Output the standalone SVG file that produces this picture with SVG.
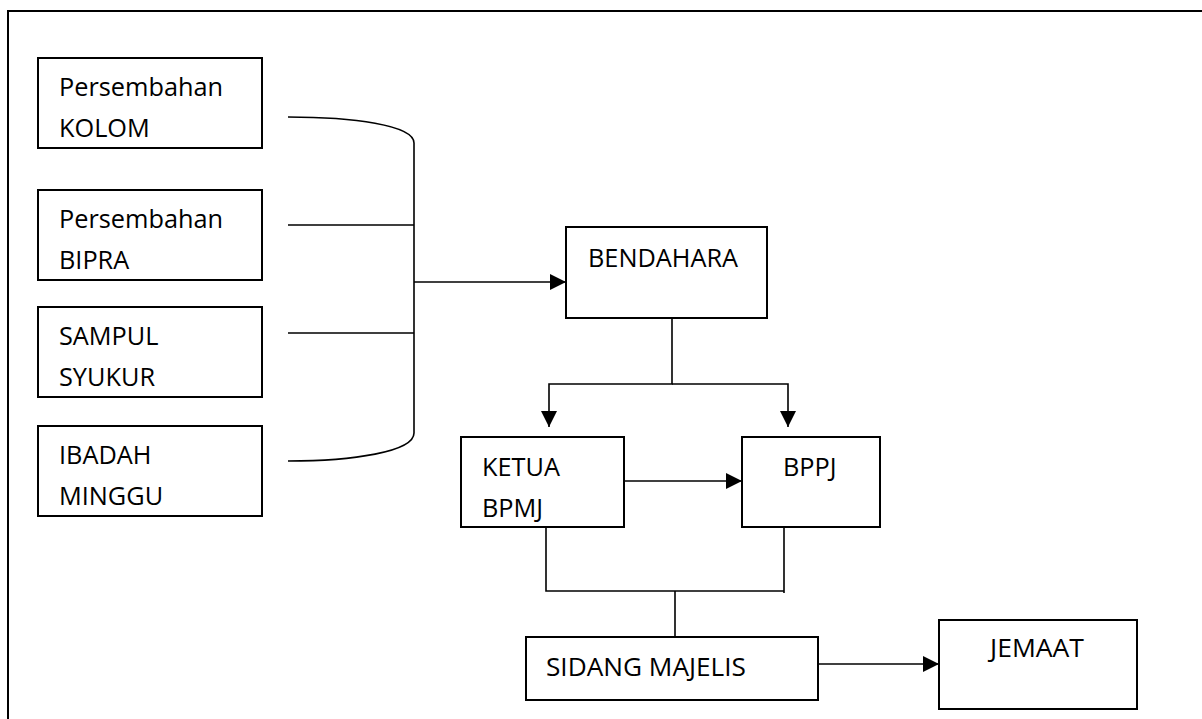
<svg xmlns="http://www.w3.org/2000/svg" width="1202" height="719" viewBox="0 0 1202 719">
<style>
.box{fill:#fff;stroke:#000;stroke-width:2}
.ln{fill:none;stroke:#000;stroke-width:1.6}
.t{font-family:"Open Sans","Liberation Sans",sans-serif;font-size:25.3px;fill:#000}
</style>
<defs>
<marker id="ah" viewBox="0 0 16 16" refX="16" refY="8" markerWidth="16" markerHeight="16" markerUnits="userSpaceOnUse" orient="auto">
<path d="M0,0 L16,8 L0,16 Z" fill="#000"/>
</marker>
</defs>
<rect width="1202" height="719" fill="#fff"/>
<path d="M8,719 V11 H1202" fill="none" stroke="#000" stroke-width="2"/>
<g id="n-kolom"><rect class="box" x="38" y="58" width="224" height="90"/><text class="t" x="59" y="96">Persembahan</text><text class="t" x="59" y="137">KOLOM</text></g>
<g id="n-bipra"><rect class="box" x="38" y="190" width="224" height="90"/><text class="t" x="59" y="228">Persembahan</text><text class="t" x="59" y="269">BIPRA</text></g>
<g id="n-sampul"><rect class="box" x="38" y="307" width="224" height="90"/><text class="t" x="59" y="345">SAMPUL</text><text class="t" x="59" y="386">SYUKUR</text></g>
<g id="n-ibadah"><rect class="box" x="38" y="426" width="224" height="90"/><text class="t" x="59" y="464">IBADAH</text><text class="t" x="59" y="505">MINGGU</text></g>
<g id="n-bendahara"><rect class="box" x="566" y="227" width="201" height="91"/><text class="t" x="588" y="267">BENDAHARA</text></g>
<g id="n-ketua"><rect class="box" x="461" y="437" width="163" height="90"/><text class="t" x="482" y="476">KETUA</text><text class="t" x="482" y="517">BPMJ</text></g>
<g id="n-bppj"><rect class="box" x="742" y="437" width="138" height="90"/><text class="t" x="783" y="476">BPPJ</text></g>
<g id="n-sidang"><rect class="box" x="526" y="637" width="292" height="63"/><text class="t" x="546" y="676" textLength="200" lengthAdjust="spacingAndGlyphs">SIDANG MAJELIS</text></g>
<g id="n-jemaat"><rect class="box" x="939" y="620" width="198" height="89"/><text class="t" x="990" y="657" textLength="94" lengthAdjust="spacingAndGlyphs">JEMAAT</text></g>
<g id="connectors">
<path class="ln" d="M288,117 C352,117 414,125 414,143 V433 C414,452 352,461 288,461"/>
<path class="ln" d="M288,225 H414 M288,333 H414"/>
<path class="ln" d="M414,282 H566" marker-end="url(#ah)"/>
<path class="ln" d="M672,318 V384 H549 V427"  marker-end="url(#ah)"/>
<path class="ln" d="M672,384 H788 V427" marker-end="url(#ah)"/>
<path class="ln" d="M624,481 H742" marker-end="url(#ah)"/>
<path class="ln" d="M546,527 V591 H784 M784,527 V593 M675,591 V637"/>
<path class="ln" d="M818,664 H939" marker-end="url(#ah)"/>
</g>
</svg>
